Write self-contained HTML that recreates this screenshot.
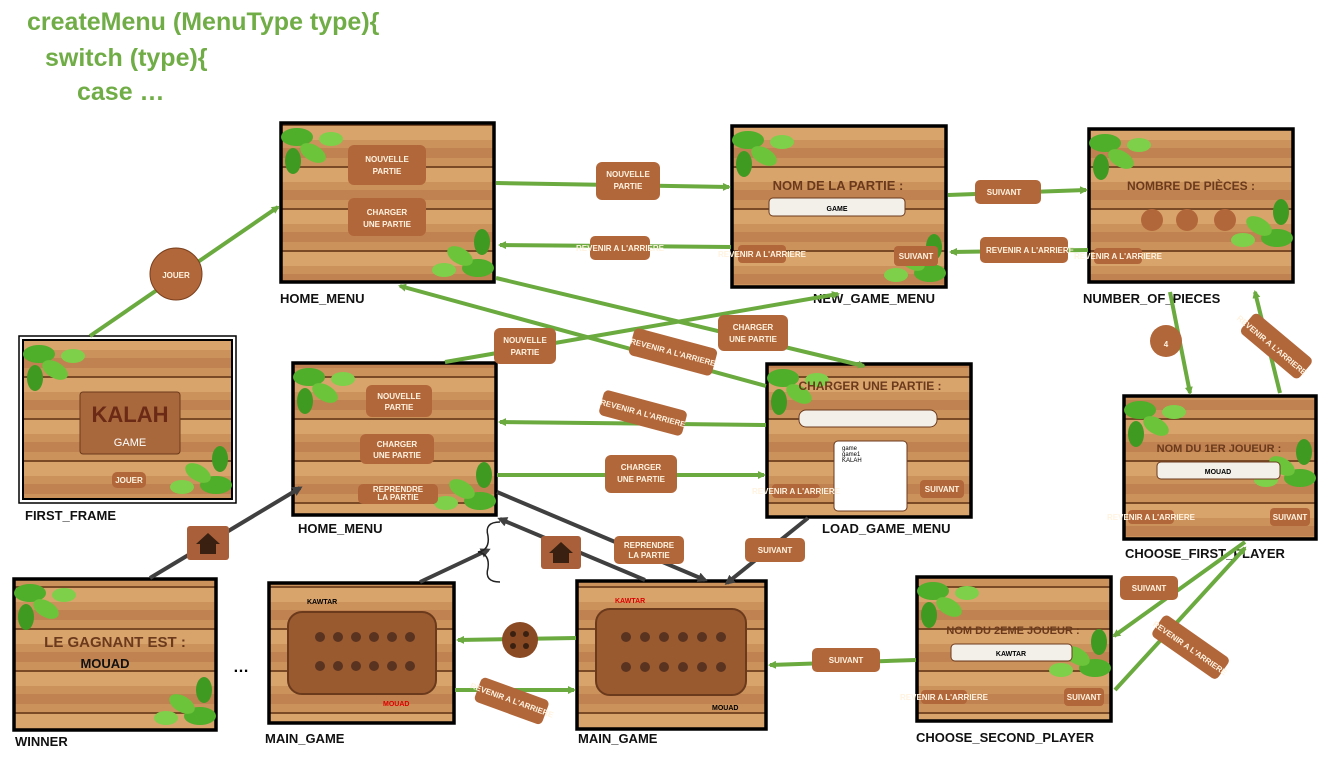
<!DOCTYPE html>
<html><head><meta charset="utf-8"><style>
body{margin:0;background:#fff;width:1333px;height:761px;overflow:hidden;font-family:"Liberation Sans",sans-serif}
svg text{font-family:"Liberation Sans",sans-serif}
.lbl{font-weight:bold;font-size:13px;fill:#111}
.bt{font-size:8px;fill:#fff3e0;font-weight:bold;text-anchor:middle}
</style></head><body>
<svg width="1333" height="761" viewBox="0 0 1333 761" xmlns="http://www.w3.org/2000/svg">
<defs>
<pattern id="wood" patternUnits="userSpaceOnUse" width="200" height="42">
<rect width="200" height="42" fill="#cc925c"/>
<rect y="0" width="200" height="14" fill="#d9a36c"/>
<rect y="22" width="200" height="10" fill="#c08250"/>
<rect y="40" width="200" height="2" fill="#7a4a26"/>
</pattern>
<marker id="ag" markerWidth="8" markerHeight="8" refX="6" refY="4" orient="auto" markerUnits="userSpaceOnUse"><path d="M0,0 L8,4 L0,8z" fill="#6aaa3f"/></marker>
<marker id="ad" markerWidth="10" markerHeight="10" refX="7" refY="5" orient="auto" markerUnits="userSpaceOnUse"><path d="M0,0 L10,5 L0,10z" fill="#404040"/></marker>
<g id="leafTL"><ellipse cx="14" cy="12" rx="16" ry="9" fill="#4fae2a"/><ellipse cx="30" cy="28" rx="14" ry="8" fill="#6cc43a" transform="rotate(30 30 28)"/><ellipse cx="10" cy="36" rx="8" ry="13" fill="#3f9a22"/><ellipse cx="48" cy="14" rx="12" ry="7" fill="#7ed04a"/></g>
<g id="leafBR"><ellipse cx="-14" cy="-12" rx="16" ry="9" fill="#4fae2a"/><ellipse cx="-32" cy="-24" rx="14" ry="8" fill="#6cc43a" transform="rotate(30 -32 -24)"/><ellipse cx="-10" cy="-38" rx="8" ry="13" fill="#3f9a22"/><ellipse cx="-48" cy="-10" rx="12" ry="7" fill="#7ed04a"/></g>
</defs>

<text x="27" y="30" font-size="25" font-weight="bold" fill="#70ad47">createMenu (MenuType type){</text>
<text x="45" y="66" font-size="25" font-weight="bold" fill="#70ad47">switch (type){</text>
<text x="77" y="100" font-size="25" font-weight="bold" fill="#70ad47">case …</text>

<g stroke="#000" stroke-width="3.5">
<rect x="281" y="123" width="213" height="159" fill="url(#wood)"/>
<rect x="732" y="126" width="214" height="161" fill="url(#wood)"/>
<rect x="1089" y="129" width="204" height="153" fill="url(#wood)"/>
<rect x="293" y="363" width="203" height="152" fill="url(#wood)"/>
<rect x="767" y="364" width="204" height="153" fill="url(#wood)"/>
<rect x="1124" y="396" width="192" height="143" fill="url(#wood)"/>
<rect x="14" y="579" width="202" height="151" fill="url(#wood)"/>
<rect x="269" y="583" width="185" height="140" fill="url(#wood)"/>
<rect x="577" y="581" width="189" height="148" fill="url(#wood)"/>
<rect x="917" y="577" width="194" height="144" fill="url(#wood)"/>
</g>
<rect x="19" y="336" width="217" height="167" fill="none" stroke="#000" stroke-width="1.5"/>
<rect x="23" y="340" width="209" height="159" fill="url(#wood)" stroke="#000" stroke-width="2"/>

<use href="#leafTL" x="283" y="125"/><use href="#leafBR" x="492" y="280"/>
<use href="#leafTL" x="734" y="128"/><use href="#leafBR" x="944" y="285"/>
<use href="#leafTL" x="1091" y="131"/><use href="#leafBR" x="1291" y="250"/>
<use href="#leafTL" x="295" y="365"/><use href="#leafBR" x="494" y="513"/>
<use href="#leafTL" x="769" y="366"/>
<use href="#leafTL" x="1126" y="398"/><use href="#leafBR" x="1314" y="490"/>
<use href="#leafTL" x="16" y="581"/><use href="#leafBR" x="214" y="728"/>
<use href="#leafTL" x="919" y="579"/><use href="#leafBR" x="1109" y="680"/>
<use href="#leafTL" x="25" y="342"/><use href="#leafBR" x="230" y="497"/>

<g>
<rect x="348" y="145" width="78" height="40" rx="6" fill="#b2673a"/><text x="387" y="162" class="bt">NOUVELLE</text><text x="387" y="174" class="bt">PARTIE</text>
<rect x="348" y="198" width="78" height="38" rx="6" fill="#b2673a"/><text x="387" y="215" class="bt">CHARGER</text><text x="387" y="227" class="bt">UNE PARTIE</text>
<text x="838" y="190" font-size="13" font-weight="bold" fill="#6b3a1c" text-anchor="middle">NOM DE LA PARTIE :</text>
<rect x="769" y="198" width="136" height="18" rx="4" fill="#f3f0ea" stroke="#6b3a1c"/><text x="837" y="211" font-size="7" text-anchor="middle" font-weight="bold">GAME</text>
<text x="1191" y="190" font-size="12" font-weight="bold" fill="#6b3a1c" text-anchor="middle">NOMBRE DE PIÈCES :</text>
<circle cx="1152" cy="220" r="11" fill="#b2673a"/><circle cx="1187" cy="220" r="11" fill="#b2673a"/><circle cx="1225" cy="220" r="11" fill="#b2673a"/>
<rect x="366" y="385" width="66" height="32" rx="6" fill="#b2673a"/><text x="399" y="399" class="bt">NOUVELLE</text><text x="399" y="410" class="bt">PARTIE</text>
<rect x="360" y="434" width="74" height="30" rx="6" fill="#b2673a"/><text x="397" y="447" class="bt">CHARGER</text><text x="397" y="458" class="bt">UNE PARTIE</text>
<rect x="358" y="484" width="80" height="20" rx="5" fill="#b2673a"/><text x="398" y="492" class="bt" font-size="6">REPRENDRE</text><text x="398" y="500" class="bt" font-size="6">LA PARTIE</text>
<text x="870" y="390" font-size="12" font-weight="bold" fill="#6b3a1c" text-anchor="middle">CHARGER UNE PARTIE :</text>
<rect x="799" y="410" width="138" height="17" rx="7" fill="#f3f0ea" stroke="#6b3a1c"/>
<rect x="834" y="441" width="73" height="70" rx="4" fill="#fff" stroke="#6b3a1c"/>
<text x="842" y="450" font-size="6">game</text><text x="842" y="456" font-size="6">game1</text><text x="842" y="462" font-size="6">KALAH</text>
<rect x="920" y="480" width="44" height="18" rx="4" fill="#b2673a"/><text x="942" y="492" class="bt" font-size="7">SUIVANT</text>
<rect x="772" y="484" width="48" height="14" rx="4" fill="#b2673a"/><text x="796" y="494" class="bt" font-size="5">REVENIR A L'ARRIERE</text>
<rect x="738" y="245" width="48" height="18" rx="4" fill="#b2673a"/><text x="762" y="257" class="bt" font-size="5">REVENIR A L'ARRIERE</text>
<rect x="894" y="246" width="44" height="20" rx="4" fill="#b2673a"/><text x="916" y="259" class="bt" font-size="7">SUIVANT</text>
<rect x="1094" y="248" width="48" height="16" rx="4" fill="#b2673a"/><text x="1118" y="259" class="bt" font-size="5">REVENIR A L'ARRIERE</text>
<text x="1219" y="452" font-size="11" font-weight="bold" fill="#6b3a1c" text-anchor="middle">NOM DU 1ER JOUEUR :</text>
<rect x="1157" y="462" width="123" height="17" rx="4" fill="#f3f0ea" stroke="#6b3a1c"/><text x="1218" y="474" font-size="7" font-weight="bold" text-anchor="middle">MOUAD</text>
<rect x="1270" y="508" width="40" height="18" rx="4" fill="#b2673a"/><text x="1290" y="520" class="bt" font-size="7">SUIVANT</text>
<rect x="1128" y="510" width="46" height="14" rx="4" fill="#b2673a"/><text x="1151" y="520" class="bt" font-size="5">REVENIR A L'ARRIERE</text>
<text x="1013" y="634" font-size="11" font-weight="bold" fill="#6b3a1c" text-anchor="middle">NOM DU 2EME JOUEUR :</text>
<rect x="951" y="644" width="121" height="17" rx="4" fill="#f3f0ea" stroke="#6b3a1c"/><text x="1011" y="656" font-size="7" font-weight="bold" text-anchor="middle">KAWTAR</text>
<rect x="1064" y="688" width="40" height="18" rx="4" fill="#b2673a"/><text x="1084" y="700" class="bt" font-size="7">SUIVANT</text>
<rect x="921" y="690" width="46" height="14" rx="4" fill="#b2673a"/><text x="944" y="700" class="bt" font-size="5">REVENIR A L'ARRIERE</text>
<rect x="80" y="392" width="100" height="62" rx="3" fill="#a9683c" stroke="#6b3a1c"/>
<text x="130" y="422" font-size="22" font-weight="bold" fill="#6b2a16" text-anchor="middle">KALAH</text>
<text x="130" y="446" font-size="11" fill="#fff" text-anchor="middle">GAME</text>
<rect x="112" y="472" width="34" height="16" rx="5" fill="#b2673a"/><text x="129" y="483" class="bt" font-size="7">JOUER</text>
<text x="115" y="647" font-size="15" font-weight="bold" fill="#6b3a1c" text-anchor="middle">LE GAGNANT EST :</text>
<text x="105" y="668" font-size="13" font-weight="bold" fill="#111" text-anchor="middle">MOUAD</text>
<rect x="288" y="612" width="148" height="82" rx="14" fill="#9a5a30" stroke="#6b3a1c" stroke-width="2"/>
<rect x="596" y="609" width="150" height="86" rx="14" fill="#9a5a30" stroke="#6b3a1c" stroke-width="2"/>
<g fill="#5a3320">
<circle cx="320" cy="637" r="5"/><circle cx="338" cy="637" r="5"/><circle cx="356" cy="637" r="5"/><circle cx="374" cy="637" r="5"/><circle cx="392" cy="637" r="5"/><circle cx="410" cy="637" r="5"/>
<circle cx="320" cy="666" r="5"/><circle cx="338" cy="666" r="5"/><circle cx="356" cy="666" r="5"/><circle cx="374" cy="666" r="5"/><circle cx="392" cy="666" r="5"/><circle cx="410" cy="666" r="5"/>
<circle cx="626" cy="637" r="5"/><circle cx="645" cy="637" r="5"/><circle cx="664" cy="637" r="5"/><circle cx="683" cy="637" r="5"/><circle cx="702" cy="637" r="5"/><circle cx="721" cy="637" r="5"/>
<circle cx="626" cy="667" r="5"/><circle cx="645" cy="667" r="5"/><circle cx="664" cy="667" r="5"/><circle cx="683" cy="667" r="5"/><circle cx="702" cy="667" r="5"/><circle cx="721" cy="667" r="5"/>
</g>
<text x="307" y="604" font-size="7" font-weight="bold">KAWTAR</text><text x="383" y="706" font-size="7" font-weight="bold" fill="#d00">MOUAD</text>
<text x="615" y="603" font-size="7" font-weight="bold" fill="#d00">KAWTAR</text><text x="712" y="710" font-size="7" font-weight="bold">MOUAD</text>
</g>

<text x="280" y="303" class="lbl">HOME_MENU</text>
<text x="813" y="303" class="lbl">NEW_GAME_MENU</text>
<text x="1083" y="303" class="lbl">NUMBER_OF_PIECES</text>
<text x="25" y="520" class="lbl">FIRST_FRAME</text>
<text x="298" y="533" class="lbl">HOME_MENU</text>
<text x="822" y="533" class="lbl">LOAD_GAME_MENU</text>
<text x="1125" y="558" class="lbl">CHOOSE_FIRST_PLAYER</text>
<text x="15" y="746" class="lbl">WINNER</text>
<text x="265" y="743" class="lbl">MAIN_GAME</text>
<text x="578" y="743" class="lbl">MAIN_GAME</text>
<text x="916" y="742" class="lbl">CHOOSE_SECOND_PLAYER</text>
<text x="233" y="672" font-size="16" font-weight="bold">…</text>

<g stroke="#6aaa3f" stroke-width="4" fill="none" marker-end="url(#ag)">
<line x1="90" y1="336" x2="278" y2="207"/>
<line x1="496" y1="183" x2="729" y2="187"/>
<line x1="731" y1="247" x2="500" y2="245"/>
<line x1="948" y1="195" x2="1086" y2="190"/>
<line x1="1088" y1="250" x2="951" y2="252"/>
<line x1="496" y1="278" x2="864" y2="366"/>
<line x1="766" y1="386" x2="400" y2="286"/>
<line x1="445" y1="362" x2="838" y2="294"/>
<line x1="766" y1="425" x2="500" y2="422"/>
<line x1="497" y1="475" x2="764" y2="475"/>
<line x1="1170" y1="292" x2="1190" y2="393"/>
<line x1="1280" y1="393" x2="1255" y2="292"/>
<line x1="1245" y1="542" x2="1114" y2="636"/>
<line x1="1115" y1="690" x2="1245" y2="548"/>
<line x1="916" y1="660" x2="770" y2="665"/>
<line x1="576" y1="638" x2="458" y2="640"/>
<line x1="455" y1="690" x2="574" y2="690"/>
</g>
<g stroke="#404040" stroke-width="4" fill="none" marker-end="url(#ad)">
<line x1="150" y1="578" x2="300" y2="488"/>
<line x1="420" y1="582" x2="488" y2="550"/>
<line x1="645" y1="580" x2="500" y2="519"/>
<line x1="497" y1="492" x2="705" y2="580"/>
<line x1="808" y1="518" x2="727" y2="583"/>
</g>
<path d="M500,522 Q484,522 488,536 Q490,550 478,552 Q490,554 488,568 Q484,582 500,582" fill="none" stroke="#222" stroke-width="1.5"/>

<g>
<circle cx="176" cy="274" r="26" fill="#b2673a" stroke="#7a3f1c"/><text x="176" y="278" class="bt" font-size="10">JOUER</text>
<rect x="596" y="162" width="64" height="38" rx="6" fill="#b2673a"/><text x="628" y="177" class="bt">NOUVELLE</text><text x="628" y="189" class="bt">PARTIE</text>
<rect x="590" y="236" width="60" height="24" rx="5" fill="#b2673a"/><text x="620" y="251" class="bt" font-size="6">REVENIR A L'ARRIERE</text>
<rect x="975" y="180" width="66" height="24" rx="5" fill="#b2673a"/><text x="1004" y="195" class="bt">SUIVANT</text>
<rect x="980" y="237" width="88" height="26" rx="5" fill="#b2673a"/><text x="1030" y="253" class="bt" font-size="6">REVENIR A L'ARRIERE</text>
<rect x="718" y="315" width="70" height="36" rx="6" fill="#b2673a"/><text x="753" y="330" class="bt">CHARGER</text><text x="753" y="342" class="bt">UNE PARTIE</text>
<rect x="630" y="338" width="86" height="28" rx="5" fill="#b2673a" transform="rotate(15 673 352)"/><text x="673" y="355" class="bt" font-size="6" transform="rotate(15 673 352)">REVENIR A L'ARRIERE</text>
<rect x="494" y="328" width="62" height="36" rx="6" fill="#b2673a"/><text x="525" y="343" class="bt">NOUVELLE</text><text x="525" y="355" class="bt">PARTIE</text>
<rect x="600" y="400" width="86" height="26" rx="5" fill="#b2673a" transform="rotate(15 643 413)"/><text x="643" y="416" class="bt" font-size="6" transform="rotate(15 643 413)">REVENIR A L'ARRIERE</text>
<rect x="605" y="455" width="72" height="38" rx="6" fill="#b2673a"/><text x="641" y="470" class="bt">CHARGER</text><text x="641" y="482" class="bt">UNE PARTIE</text>
<circle cx="1166" cy="341" r="16" fill="#b2673a"/><text x="1166" y="347" class="bt" font-size="14">4</text>
<rect x="1238" y="330" width="76" height="26" rx="5" fill="#b2673a" transform="rotate(40 1272 345)"/><text x="1272" y="348" class="bt" font-size="6" transform="rotate(40 1272 345)">REVENIR A L'ARRIERE</text>
<rect x="1120" y="576" width="58" height="24" rx="5" fill="#b2673a"/><text x="1149" y="591" class="bt">SUIVANT</text>
<rect x="1150" y="634" width="80" height="26" rx="5" fill="#b2673a" transform="rotate(35 1190 648)"/><text x="1190" y="651" class="bt" font-size="6" transform="rotate(35 1190 648)">REVENIR A L'ARRIERE</text>
<rect x="812" y="648" width="68" height="24" rx="5" fill="#b2673a"/><text x="846" y="663" class="bt">SUIVANT</text>
<circle cx="520" cy="640" r="18" fill="#8a4a24"/><circle cx="513" cy="634" r="3" fill="#3a2010"/><circle cx="526" cy="634" r="3" fill="#3a2010"/><circle cx="513" cy="646" r="3" fill="#3a2010"/><circle cx="526" cy="646" r="3" fill="#3a2010"/>
<rect x="476" y="688" width="72" height="26" rx="5" fill="#b2673a" transform="rotate(20 512 700)"/><text x="512" y="703" class="bt" font-size="6" transform="rotate(20 512 700)">REVENIR A L'ARRIERE</text>
<rect x="187" y="526" width="42" height="34" rx="3" fill="#a9603a"/><path d="M196,544 L208,533 L220,544 L216,544 L216,554 L200,554 L200,544z" fill="#3a2010"/>
<rect x="541" y="536" width="40" height="33" rx="3" fill="#a9603a"/><path d="M549,553 L561,542 L573,553 L569,553 L569,563 L553,563 L553,553z" fill="#3a2010"/>
<rect x="614" y="536" width="70" height="28" rx="5" fill="#b2673a"/><text x="649" y="548" class="bt" font-size="7">REPRENDRE</text><text x="649" y="558" class="bt" font-size="7">LA PARTIE</text>
<rect x="745" y="538" width="60" height="24" rx="5" fill="#b2673a"/><text x="775" y="553" class="bt">SUIVANT</text>
</g>
</svg>
</body></html>
